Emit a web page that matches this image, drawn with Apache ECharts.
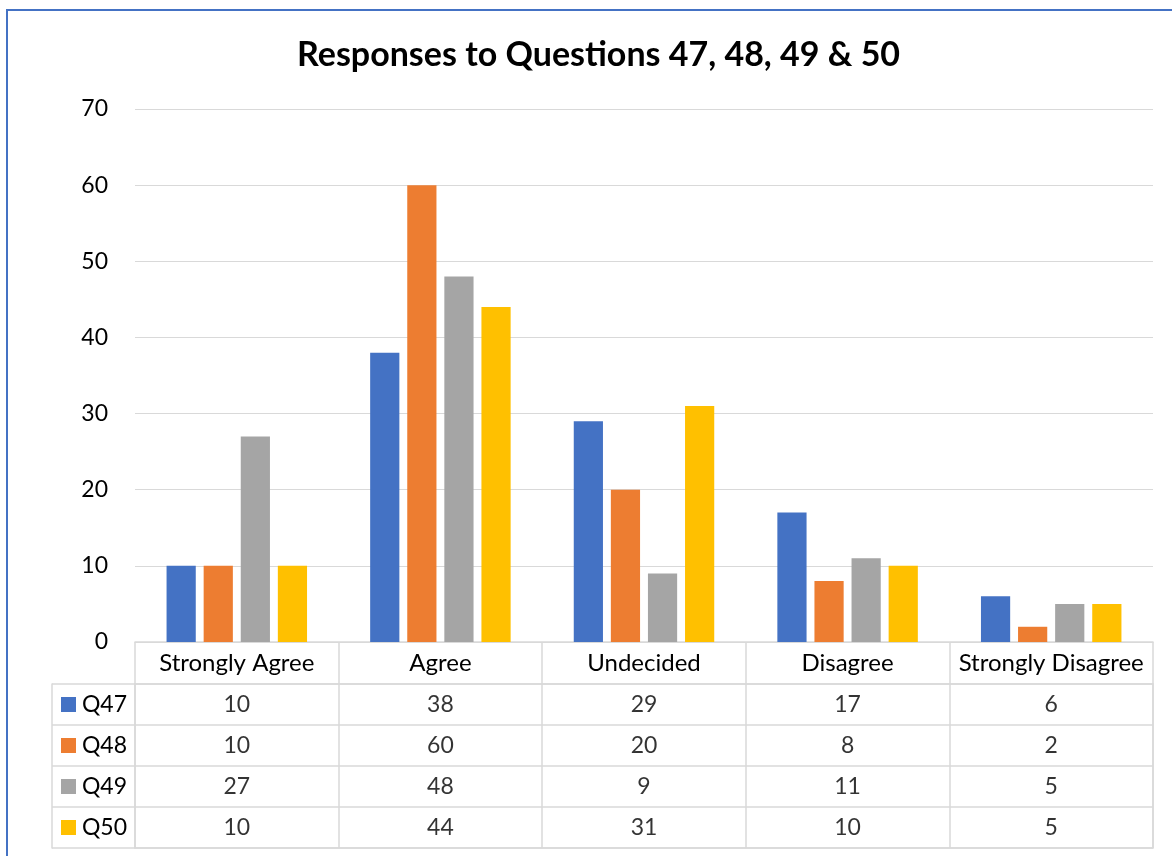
<!DOCTYPE html>
<html>
<head>
    <meta charset="utf-8">
    <title>Responses to Questions 47, 48, 49 & 50</title>
    <script type="text/javascript" src="https://cdn.jsdelivr.net/npm/echarts@6/dist/echarts.min.js"></script>
    <style>
        body { margin: 0; background: #fff; }
    </style>
</head>
<body>
<div id="bar" style="width:1172px;height:856px;"></div>

<script type="text/javascript">
    // data
    var categories = ['Strongly Agree', 'Agree', 'Undecided', 'Disagree', 'Strongly Disagree'];
    var seriesNames = ['Q47', 'Q48', 'Q49', 'Q50'];
    var q47 = [10, 38, 29, 17, 6];
    var q48 = [10, 60, 20, 8, 2];
    var q49 = [27, 48, 9, 11, 5];
    var q50 = [10, 44, 31, 10, 5];
    var yTicks = [0, 10, 20, 30, 40, 50, 60, 70];

    var colors = ['#4472c4', '#ed7d31', '#a5a5a5', '#ffc000'];
    var lineColor = '#d9d9d9';
    var font = 'Lato, Carlito, "Open Sans", sans-serif';

    var myChart = echarts.init(document.getElementById('bar'));

    var allData = [q47, q48, q49, q50];

    // cells of the data table: [column, row, value]
    var cells = [];
    for (var r = 0; r < allData.length; r++) {
        for (var c = 0; c < categories.length; c++) {
            cells.push([c, r, allData[r][c]]);
        }
    }

    var rich = {};
    for (var k = 0; k < colors.length; k++) {
        rich['s' + k] = { width: 15, height: 15, backgroundColor: colors[k] };
    }

    var series = [];
    for (var i = 0; i < seriesNames.length; i++) {
        series.push({
            name: seriesNames[i],
            type: 'bar',
            xAxisIndex: 0,
            yAxisIndex: 0,
            data: allData[i],
            barGap: '27%',
            barCategoryGap: '31%',
            itemStyle: { color: colors[i] }
        });
    }
    series.push({
        name: 'table',
        type: 'scatter',
        xAxisIndex: 1,
        yAxisIndex: 1,
        symbolSize: 1,
        itemStyle: { color: 'rgba(0,0,0,0)' },
        silent: true,
        label: {
            show: true,
            position: 'inside',
            fontFamily: font,
            fontSize: 23,
            color: '#000',
            formatter: function (p) { return p.value[2]; }
        },
        data: cells
    });

    var option = {
        animation: false,
        color: colors,
        title: {
            text: 'Responses to Questions 47, 48, 49 & 50',
            left: 292,
            top: 33,
            textStyle: { fontFamily: font, fontSize: 34, fontWeight: 'bold', color: '#000' }
        },
        graphic: [{
            type: 'rect',
            shape: { x: 7, y: 10, width: 1200, height: 900 },
            style: { fill: 'none', stroke: '#4472c4', lineWidth: 2 },
            silent: true
        }],
        grid: [
            { left: 135, right: 19, top: 109, bottom: 214 },
            { left: 135, right: 19, top: 684, bottom: 8, show: true, borderColor: lineColor, borderWidth: 1.5 }
        ],
        xAxis: [{
            type: 'category',
            gridIndex: 0,
            data: categories,
            axisLine: { lineStyle: { color: lineColor, width: 1.5 } },
            axisTick: { show: true, length: 42, lineStyle: { color: lineColor, width: 1.5 } },
            axisLabel: { fontFamily: font, fontSize: 24, color: '#000', margin: 9, interval: 0 }
        }, {
            type: 'category',
            gridIndex: 1,
            data: categories,
            axisLine: { show: false },
            axisTick: { show: false },
            axisLabel: { show: false },
            splitLine: { show: true, lineStyle: { color: lineColor, width: 1.5 } }
        }],
        yAxis: [{
            type: 'value',
            gridIndex: 0,
            min: 0,
            max: 70,
            interval: 10,
            axisLine: { show: false },
            axisTick: { show: false },
            axisLabel: {
                fontFamily: font, fontSize: 23, color: '#000', margin: 27,
                formatter: function (v) { return yTicks.indexOf(v) >= 0 ? v : ''; }
            },
            splitLine: { lineStyle: { color: lineColor } }
        }, {
            type: 'category',
            gridIndex: 1,
            inverse: true,
            data: seriesNames,
            axisLine: { show: false },
            axisTick: { show: true, length: 83, lineStyle: { color: lineColor, width: 1.5 } },
            axisLabel: {
                fontFamily: font, fontSize: 23, color: '#000',
                align: 'left', margin: 74,
                formatter: function (v, idx) { return '{s' + idx + '|} ' + v; },
                rich: rich
            },
            splitLine: { show: true, lineStyle: { color: lineColor, width: 1.5 } }
        }, {
            type: 'category',
            gridIndex: 1,
            position: 'left',
            offset: 83,
            data: seriesNames,
            axisLine: { show: true, lineStyle: { color: lineColor, width: 1.5 } },
            axisTick: { show: false },
            axisLabel: { show: false }
        }],
        series: series
    };
    myChart.setOption(option);
</script>
</body>
</html>
